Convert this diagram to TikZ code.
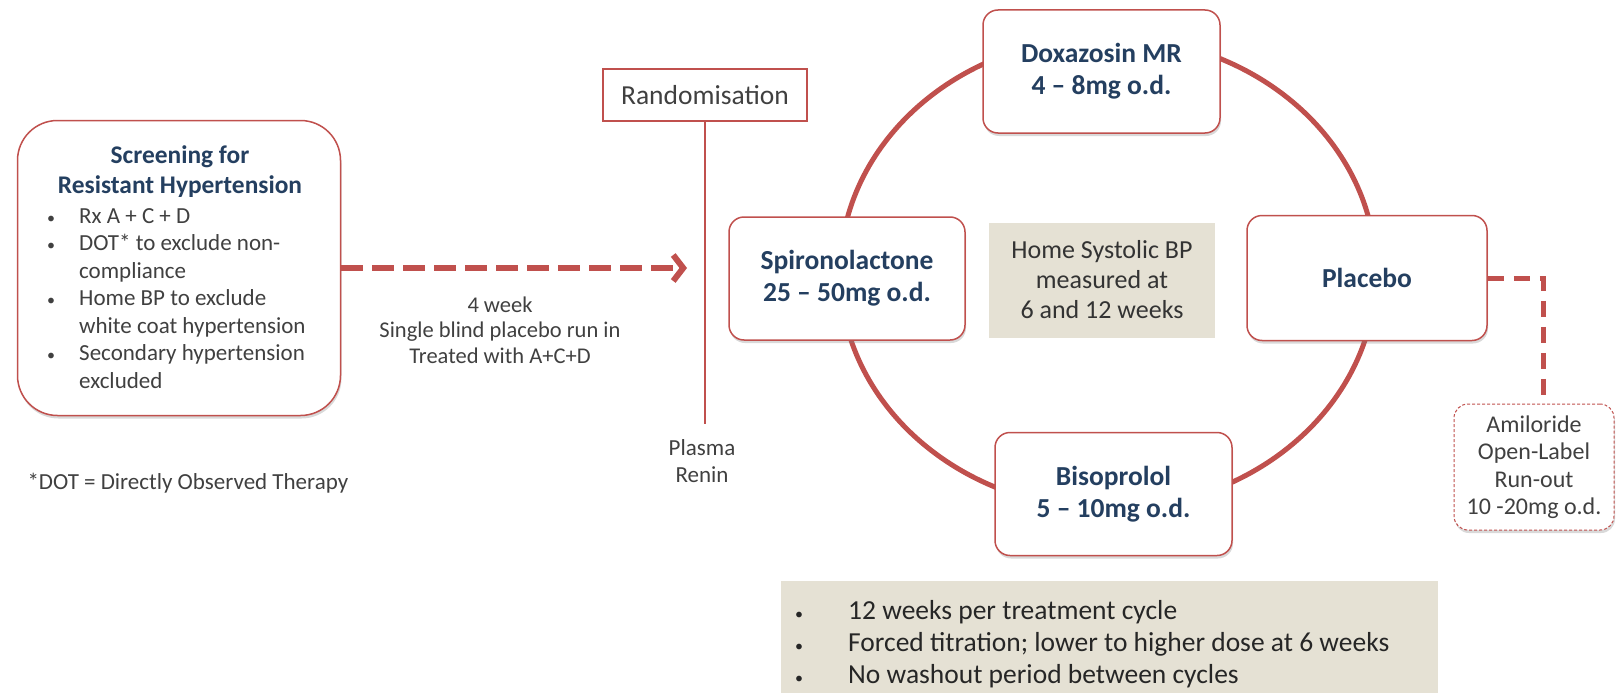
\documentclass[tikz,border=0pt]{standalone}
\usepackage{fontspec}
\setmainfont{Carlito}
\usetikzlibrary{positioning, arrows.meta, shapes, calc, shadows}
\definecolor{boxred}{HTML}{C0504D}
\definecolor{navy}{HTML}{243F60}
\definecolor{txtgray}{HTML}{404040}
\definecolor{tan}{HTML}{E5E1D4}
\newcommand{\sz}[2]{\fontsize{#1}{#2}\selectfont}
\newcommand{\dotmark}{{\sz{16}{16}\textbullet}}

\begin{document}
\begin{tikzpicture}[x=1pt, y=-1pt,
    shade/.style={drop shadow={shadow xshift=1pt, shadow yshift=-3pt, opacity=0.3}},
    drug/.style={rectangle, rounded corners=15pt, draw=boxred, line width=1.5pt, fill=white, shade, minimum width=237pt, minimum height=123pt, align=center, text=navy, font=\sz{27.5}{32}\bfseries},
    note/.style={align=center, text=txtgray, font=\sz{23}{27}},
    ring/.style={draw=boxred, line width=5pt},
    runin/.style={draw=boxred, line width=6pt, dash pattern=on 22pt off 9pt, -{Straight Barb[length=10pt, width=26pt]}}
]
    \useasboundingbox (0,0) rectangle (1617,693);

    % screening
    \node[rectangle, rounded corners=40pt, draw=boxred, line width=1.5pt, fill=white, shade, minimum width=323pt, minimum height=295pt] (screen) at (179,268) {};
    \node[align=center, text=navy, font=\sz{25.4}{30}\bfseries] (scrtitle) at (180,172) {Screening for\\Resistant Hypertension};
    \node[anchor=north west, inner sep=0pt, text=txtgray, font=\sz{23}{27.5}] (scrlist) at (47,204) {%
        \begin{tabular}{@{}p{32pt}@{}l@{}}
        \dotmark & Rx A + C + D\\
        \dotmark & DOT* to exclude non-\\
                 & compliance\\
        \dotmark & Home BP to exclude\\
                 & white coat hypertension\\
        \dotmark & Secondary hypertension\\
                 & excluded
        \end{tabular}};
    \node[anchor=west, text=txtgray, font=\sz{23}{27}] (dotnote) at (24,483) {*DOT = Directly Observed Therapy};

    % run-in and randomisation
    \coordinate (runend) at (687,268);
    \draw[runin] (screen.east) -- (runend);
    \node[note, font=\sz{22.5}{25.5}] (runtext) at (500,330) {4 week\\Single blind placebo run in\\Treated with A+C+D};

    \node[rectangle, draw=boxred, line width=1.5pt, minimum width=204pt, minimum height=52pt, text=txtgray, font=\sz{27.5}{32}] (rand) at (705,95) {Randomisation};
    \node[note] (renin) at (702,461) {Plasma\\Renin};
    \draw[boxred, line width=2.5pt, shorten >=12pt] (rand.south) -- (rand.south |- renin.north);

    % treatment cycle
    \coordinate (hub) at (1108,273);
    \draw[ring] (hub) ellipse [x radius=268pt, y radius=236pt];

    \node[drug] (doxa) at (1101.5,71.5) {Doxazosin MR\\4 -- 8mg o.d.};
    \node[drug, minimum width=236pt] (spiro) at (847,278.5) {Spironolactone\\25 -- 50mg o.d.};
    \node[drug, minimum width=240pt, minimum height=125pt] (placebo) at (1367,278) {Placebo};
    \node[drug] (biso) at (1113.5,494) {Bisoprolol\\5 -- 10mg o.d.};
    \node[fill=tan, minimum width=226pt, minimum height=115pt, align=center, text=black!80, font=\sz{26}{30}] (homebp) at (1102,280) {Home Systolic BP\\measured at\\6 and 12 weeks};

    % run-out
    \node[rectangle, rounded corners=14pt, draw=boxred, line width=1pt, densely dashed, fill=white, shade, minimum width=160pt, minimum height=126pt, note, font=\sz{24}{27.5}] (amil) at (1534,467) {Amiloride\\Open-Label\\Run-out\\10 -20mg o.d.};
    \draw[boxred, line width=5pt, dash pattern=on 16pt off 10pt] (placebo.east) -| ([xshift=9pt]amil.north);

    % cycle notes
    \node[fill=tan, anchor=north west, minimum width=657pt, minimum height=113pt] (cycle) at (781,581) {};
    \node[anchor=north west, inner sep=0pt, text=black!85, font=\sz{27.5}{32}] (cyclelist) at (795,597) {%
        \begin{tabular}{@{}p{53pt}@{}l@{}}
        \dotmark & 12 weeks per treatment cycle\\
        \dotmark & Forced titration; lower to higher dose at 6 weeks\\
        \dotmark & No washout period between cycles
        \end{tabular}};
\end{tikzpicture}
\end{document}
